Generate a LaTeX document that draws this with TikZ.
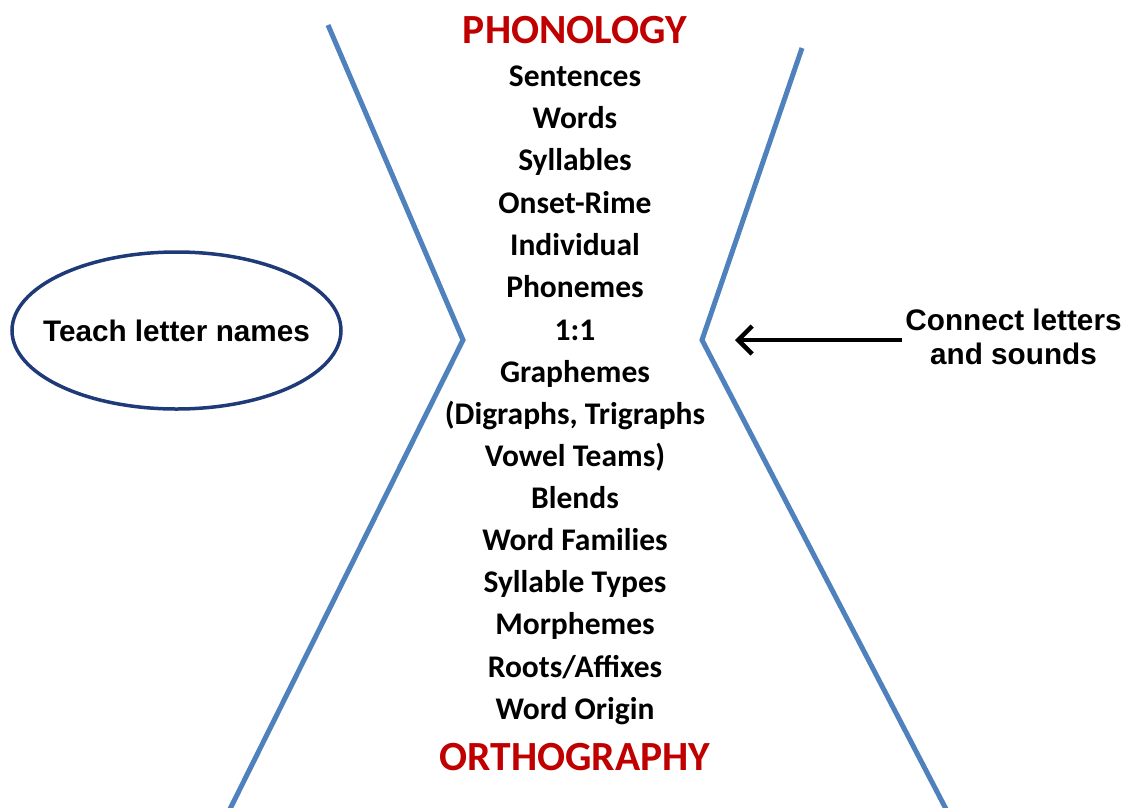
\documentclass[tikz,border=0pt]{standalone}
\usepackage{fontspec}
\setmainfont{Carlito}
\newfontfamily\labfont{Liberation Sans}
\usetikzlibrary{shapes.geometric,arrows.meta}
\definecolor{lineblue}{HTML}{4F81BD}
\definecolor{titlered}{HTML}{C00000}
\definecolor{navy}{HTML}{1F3A78}
\tikzset{
  item/.style={anchor=base, inner sep=0pt, font=\fontsize{31.5}{31.5}\selectfont\bfseries},
  title/.style={anchor=base, inner sep=0pt, text=titlered, font=\fontsize{41.5}{41.5}\selectfont\bfseries},
  lab/.style={anchor=base, inner sep=0pt, font=\fontsize{29.7}{29.7}\labfont\bfseries},
  vline/.style={draw=lineblue, line width=5pt, line join=miter},
  oval/.style={ellipse, draw=navy, line width=3.5pt, minimum width=329, minimum height=157, inner sep=0pt},
  pointer/.style={draw=black, line width=4.5pt, -{Straight Barb[length=14pt,width=28pt,line width=4.5pt]}}
}
\begin{document}
\begin{tikzpicture}[x=1pt,y=-1pt]
\useasboundingbox (0,0) rectangle (1127,807);
% V shapes
\coordinate (l1) at (328,25);
\coordinate (l2) at (463,340);
\coordinate (l3) at (230,809);
\coordinate (r1) at (802,48);
\coordinate (r2) at (702,340);
\coordinate (r3) at (946,809);
\draw[vline] (l1) -- (l2) -- (l3);
\draw[vline] (r1) -- (r2) -- (r3);
% titles
\node[title] (phon) at (575,43) {PHONOLOGY};
\node[title] (orth) at (575,770) {ORTHOGRAPHY};
% items
\node[item] (i1) at (575,86) {Sentences};
\node[item] (i2) at (575,128) {Words};
\node[item] (i3) at (575,170) {Syllables};
\node[item] (i4) at (575,213) {Onset-Rime};
\node[item] (i5) at (575,255) {Individual};
\node[item] (i6) at (575,297) {Phonemes};
\node[item] (i7) at (575,340) {1:1};
\node[item] (i8) at (575,382) {Graphemes};
\node[item] (i9) at (575,424) {(Digraphs, Trigraphs};
\node[item] (i10) at (575,466) {Vowel Teams)};
\node[item] (i11) at (575,508) {Blends};
\node[item] (i12) at (575,550) {Word Families};
\node[item] (i13) at (575,592) {Syllable Types};
\node[item] (i14) at (575,634) {Morphemes};
\node[item] (i15) at (575,677) {Roots/Affixes};
\node[item] (i16) at (575,719) {Word Origin};
% ellipse
\node[oval] (ov) at (176.5,330.5) {};
\node[lab] (teach) at (176.5,341) {Teach letter names};
% right label and arrow
\node[lab] (conn1) at (1013.5,330) {Connect letters};
\node[lab] (conn2) at (1013.5,364) {and sounds};
\coordinate (as) at (902,340);
\coordinate (ae) at (735,340);
\draw[pointer] (as) -- (ae);
\end{tikzpicture}
\end{document}
